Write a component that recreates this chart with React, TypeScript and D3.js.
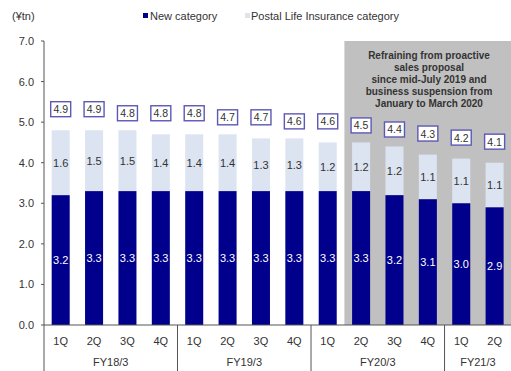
import React from "react";
import * as d3 from "d3";

const quarters = ["1Q","2Q","3Q","4Q","1Q","2Q","3Q","4Q","1Q","2Q","3Q","4Q","1Q","2Q"];
const fiscalYears = ["FY18/3","FY18/3","FY18/3","FY18/3","FY19/3","FY19/3","FY19/3","FY19/3","FY20/3","FY20/3","FY20/3","FY20/3","FY21/3","FY21/3"];
const newCategory = [3.2,3.3,3.3,3.3,3.3,3.3,3.3,3.3,3.3,3.3,3.2,3.1,3.0,2.9];
const postalCategory = [1.6,1.5,1.5,1.4,1.4,1.4,1.3,1.3,1.2,1.2,1.2,1.1,1.1,1.1];
const totalLabels = [4.9,4.9,4.8,4.8,4.8,4.7,4.7,4.6,4.6,4.5,4.4,4.3,4.2,4.1];
const yTicks = [0,1,2,3,4,5,6,7];
const shadedFrom = 9; // index of first shaded quarter (FY20/3 2Q)
const noteLines = [
  "Refraining from proactive",
  "sales proposal",
  "since mid-July 2019 and",
  "business suspension from",
  "January to March 2020",
];

const W = 511, H = 371;
const FONT = "'Liberation Sans', Arial, sans-serif";
const DARK = "#00008c";
const LIGHT = "#dce4f2";
const TEXT = "#333333";

export default function App() {
  const ids = quarters.map((_, i) => String(i));
  const x = d3.scaleBand<string>().domain(ids).range([44, 511.3]).paddingInner(0.46).paddingOuter(0.23);
  const y = d3.scaleLinear().domain([0, 7]).range([325, 41]);
  const step = x.step();
  const bw = x.bandwidth();
  const cx = (i: number) => (x(String(i)) as number) + bw / 2;
  const x0 = 44;
  const baseY = y(0);

  // groups
  const groups: { name: string; start: number; end: number }[] = [];
  fiscalYears.forEach((fy, i) => {
    const g = groups[groups.length - 1];
    if (g && g.name === fy) g.end = i;
    else groups.push({ name: fy, start: i, end: i });
  });
  const boundary = (i: number) => cx(i) - step / 2;

  const shadeX = boundary(shadedFrom);

  return (
    <svg width={W} height={H} style={{ position: "absolute", left: 0, top: 0, background: "#fff" }} fontFamily={FONT}>
      {/* shaded region */}
      <rect x={shadeX} y={y(7)} width={W - shadeX} height={baseY - y(7)} fill="#c0c0c0" />
      {noteLines.map((t, k) => (
        <text key={k} x={429} y={55 + k * 12} textAnchor="middle" dominantBaseline="central"
          fontSize={10} fontWeight="bold" fill="#333">{t}</text>
      ))}

      {/* legend */}
      <text x={12} y={16} fontSize={11} fill={TEXT} dominantBaseline="central">(¥tn)</text>
      <rect x={143} y={13} width={5} height={5} fill={DARK} />
      <text x={150} y={16} fontSize={11} fill={TEXT} dominantBaseline="central">New category</text>
      <rect x={245} y={13} width={5} height={5} fill={LIGHT} />
      <text x={251} y={16} fontSize={11} fill={TEXT} dominantBaseline="central">Postal Life Insurance category</text>

      {/* y axis */}
      <line x1={x0} x2={x0} y1={y(7)} y2={H} stroke="#555" strokeWidth={1} />
      {yTicks.map((t) => (
        <g key={t}>
          <line x1={x0 - 3} x2={x0} y1={y(t)} y2={y(t)} stroke="#555" />
          <text x={34} y={y(t)} textAnchor="end" dominantBaseline="central" fontSize={11} fill={TEXT}>
            {d3.format(".1f")(t)}
          </text>
        </g>
      ))}

      {/* bars */}
      {quarters.map((_, i) => {
        const n = newCategory[i];
        const p = postalCategory[i];
        const bx = x(String(i)) as number;
        return (
          <g key={i}>
            <rect x={bx} y={y(n + p)} width={bw} height={y(n) - y(n + p)} fill={LIGHT} />
            <rect x={bx} y={y(n)} width={bw} height={baseY - y(n)} fill={DARK} />
            <text x={cx(i)} y={(y(n) + baseY) / 2} textAnchor="middle" dominantBaseline="central" fontSize={11} fill="#fff">
              {d3.format(".1f")(n)}
            </text>
            <text x={cx(i)} y={(y(n) + y(n + p)) / 2} textAnchor="middle" dominantBaseline="central" fontSize={11} fill={TEXT}>
              {d3.format(".1f")(p)}
            </text>
            <rect x={cx(i) - 10} y={y(totalLabels[i]) - 17 - 7.5} width={20} height={15} fill="#fff" stroke="#5d58b4" strokeWidth={1.4} />
            <text x={cx(i)} y={y(totalLabels[i]) - 17} textAnchor="middle" dominantBaseline="central" fontSize={10.5} fill={TEXT}>
              {d3.format(".1f")(totalLabels[i])}
            </text>
          </g>
        );
      })}

      {/* x axis */}
      <line x1={x0} x2={W} y1={baseY} y2={baseY} stroke="#555" />
      {quarters.map((q, i) => (
        <text key={i} x={cx(i)} y={341} textAnchor="middle" dominantBaseline="central" fontSize={11} fill={TEXT}>{q}</text>
      ))}
      {groups.map((g, k) => (
        <g key={k}>
          {k > 0 && <line x1={boundary(g.start)} x2={boundary(g.start)} y1={baseY} y2={H} stroke="#555" />}
          <text x={(cx(g.start) + cx(g.end)) / 2} y={362} textAnchor="middle" dominantBaseline="central" fontSize={11} fill={TEXT}>{g.name}</text>
        </g>
      ))}
    </svg>
  );
}
